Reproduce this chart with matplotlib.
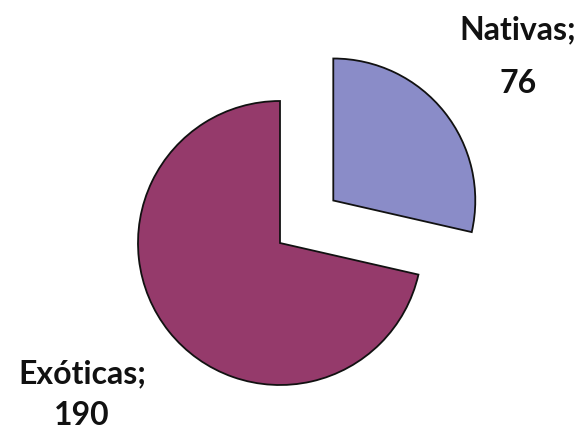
import matplotlib.pyplot as plt

labels = ["Nativas", "Exóticas"]
values = [76, 190]
colors = ["#8a8cc8", "#953a6b"]

fig = plt.figure(figsize=(5.87, 4.30), dpi=100)
ax = fig.add_axes([0, 0, 1, 1])

radius = 142
ax.pie(values, colors=colors, startangle=90, counterclock=False,
       explode=[0.48 * radius, 0], center=(280, 187), radius=radius, frame=True,
       wedgeprops=dict(edgecolor="#111111", linewidth=1.3))
ax.set_xlim(0, 587)
ax.set_ylim(0, 430)
ax.set_aspect("equal")
ax.axis("off")

font = dict(family=["Lato", "DejaVu Sans"], fontweight="bold", fontsize=23,
            ha="center", color="#111111")
ax.text(518, 430 - 39, f"{labels[0]};", va="baseline", **font)
ax.text(518, 430 - 93, f"{values[0]}", va="baseline", **font)
ax.text(82, 430 - 383, f"{labels[1]};", va="baseline", **font)
ax.text(82, 430 - 425, f"{values[1]}", va="baseline", **font)

fig.savefig("out.png", dpi=100)
